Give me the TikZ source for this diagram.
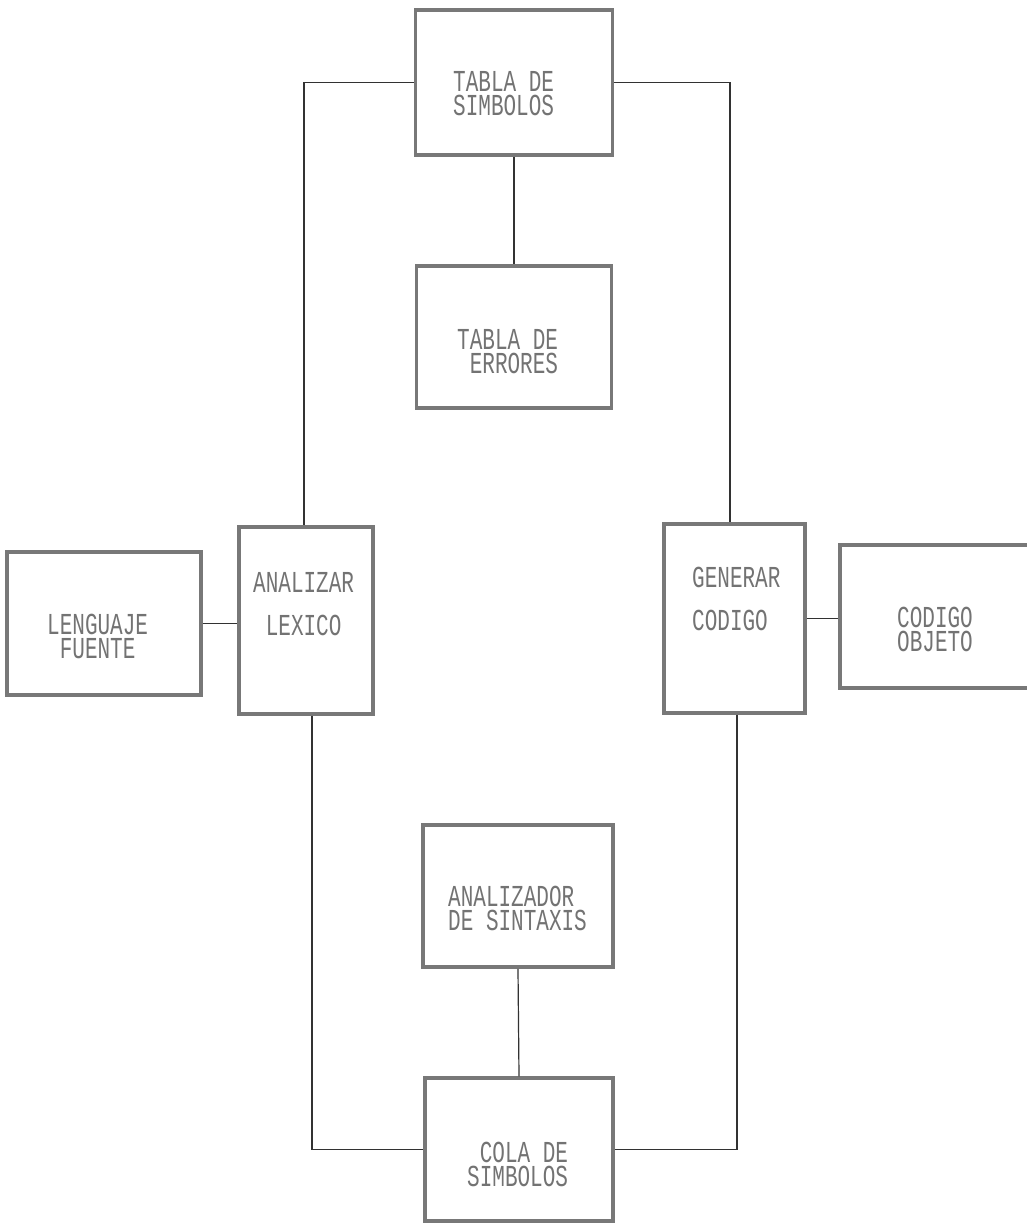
\documentclass[tikz,border=0pt]{standalone}
\usepackage{fontspec}
\setmonofont{Liberation Mono}
\usepackage{graphicx}
\renewcommand\arraystretch{0.7}
\newcommand\dmtext[1]{\scalebox{1}[1.45]{\begin{tabular}{@{}l@{}}#1\end{tabular}}}
\definecolor{bordc}{RGB}{120,120,120}
\definecolor{txtc}{RGB}{115,115,115}
\definecolor{connc}{RGB}{50,50,50}
\tikzset{
  box/.style={draw=bordc, line width=3.5pt, inner sep=0pt},
  txt/.style={text=txtc, inner sep=0pt, anchor=north west, font=\ttfamily\fontsize{21}{12}\selectfont},
  conn/.style={draw=connc, line width=1.2pt}
}
\begin{document}
\begin{tikzpicture}[x=1pt,y=-1pt]
\useasboundingbox (0,0) rectangle (1027,1223);
\clip (0,0) rectangle (1027,1223);
\fill[white] (0,0) rectangle (1027,1223);
% boxes
\node[box, minimum width=197pt, minimum height=145pt] (ts) at (514,82.5) {};
\node[box, minimum width=195pt, minimum height=142pt] (te) at (514,337) {};
\node[box, minimum width=194pt, minimum height=143pt] (lf) at (104,623.5) {};
\node[box, minimum width=134pt, minimum height=187pt] (al) at (306,620.5) {};
\node[box, minimum width=141pt, minimum height=189pt] (gc) at (734.5,618.5) {};
\node[box, minimum width=190pt, minimum height=143pt] (co) at (935,616.5) {};
\node[box, minimum width=190pt, minimum height=142pt] (as) at (518,896) {};
\node[box, minimum width=188pt, minimum height=143pt] (cs) at (519,1149.5) {};
% texts
\node[txt] (tst) at (453,71) {\dmtext{TABLA DE\\SIMBOLOS}};
\node[txt] (tet) at (457,329) {\dmtext{TABLA DE\\\phantom{X}ERRORES}};
\node[txt] (lft) at (47,614) {\dmtext{LENGUAJE\\\phantom{X}FUENTE}};
\node[txt] (alt) at (253,572) {\dmtext{ANALIZAR\\[13pt]\phantom{X}LEXICO}};
\node[txt] (gct) at (692,567) {\dmtext{GENERAR\\[13pt]CODIGO}};
\node[txt] (cot) at (897,607) {\dmtext{CODIGO\\OBJETO}};
\node[txt] (ast) at (448,886) {\dmtext{ANALIZADOR\\DE SINTAXIS}};
\node[txt] (cst) at (467,1142) {\dmtext{\phantom{X}COLA DE\\SIMBOLOS}};
% connectors
\draw[conn] (ts.west) -| ([xshift=-2pt]al.north);
\draw[conn] (ts.east) -| ([xshift=-4.5pt]gc.north);
\draw[conn] (ts.south) -- (te.north);
\draw[conn] (lf.east) -- (lf.east -| al.west);
\draw[conn] (gc.east) -- (gc.east -| co.west);
\draw[conn] ([xshift=6pt]al.south) |- (cs.west);
\draw[conn] ([xshift=2.5pt]gc.south) |- (cs.east);
\draw[conn] (as.south) -- (cs.north);
\end{tikzpicture}
\end{document}
